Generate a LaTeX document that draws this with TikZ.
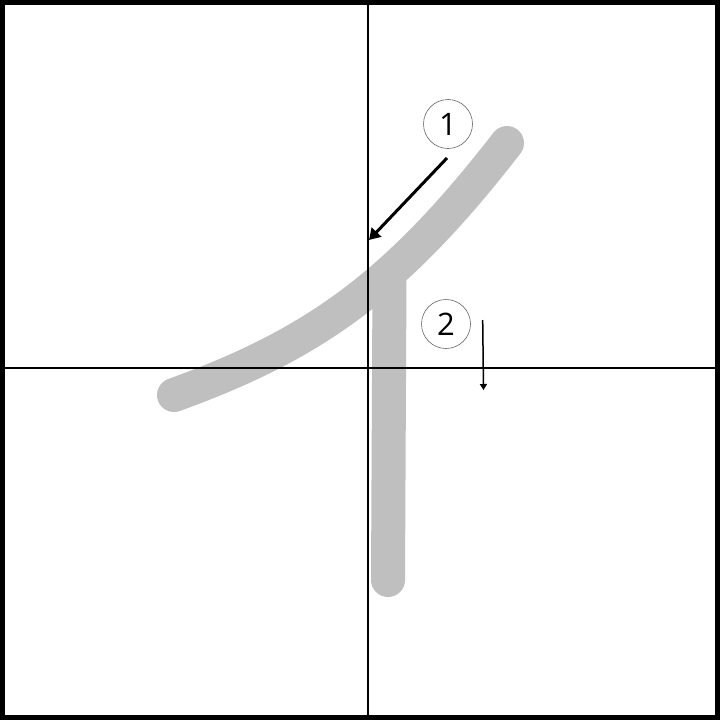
\documentclass[tikz,border=0pt]{standalone}
\usepackage{fontspec}
\setsansfont{Open Sans}
\usetikzlibrary{arrows.meta}
\begin{document}
\begin{tikzpicture}[x=1pt,y=-1pt,
  brush/.style={line width=34pt,color=black!25!white,line cap=round,line join=round},
  guide/.style={line width=1.1pt,black},
  num/.style={circle,draw=black!60,line width=0.6pt,minimum size=49pt,inner sep=0pt,font=\sffamily\fontsize{31}{31}\selectfont},
  order/.style={black,-{Triangle[length=11pt,width=13pt]}}]
\useasboundingbox (0,0) rectangle (720,720);
\fill[white] (0,0) rectangle (720,720);
% strokes
\coordinate (s1a) at (507,143);
\coordinate (s1c1) at (397,285);
\coordinate (s1c2) at (315,344);
\coordinate (s1b) at (174,395);
\coordinate (s2a) at (389.5,278);
\coordinate (s2b) at (388,580);
\draw[brush,line cap=butt] (s2a) -- (s2b);
\fill[black!25!white] (s2b) circle (17pt);
\draw[brush] (s1a) .. controls (s1c1) and (s1c2) .. (s1b);
% guides
\coordinate (vt) at (368,0);
\coordinate (vb) at (368,720);
\coordinate (hl) at (0,368);
\coordinate (hr) at (720,368);
\draw[guide] (vt) -- (vb);
\draw[guide] (hl) -- (hr);
% numbers
\node[num] (n1) at (448,124) {1};
\node[num] (n2) at (446,324) {2};
\coordinate (a1s) at (447,158);
\coordinate (a1e) at (369,240);
\coordinate (a2s) at (482.7,320);
\coordinate (a2e) at (483.5,390);
\draw[order,line width=3pt] (a1s) -- (a1e);
\draw[black,line width=1.5pt,-{Triangle[length=6pt,width=7pt]}] (a2s) -- (a2e);
% border
\draw[line width=5pt,black] (2.5,2.5) rectangle (717.5,717.5);
\end{tikzpicture}
\end{document}
